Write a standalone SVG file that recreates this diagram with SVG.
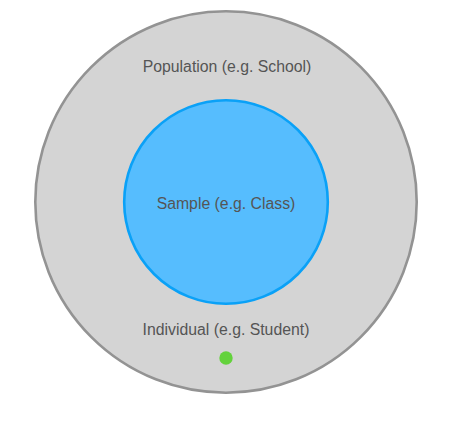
<svg xmlns="http://www.w3.org/2000/svg" width="464" height="421" viewBox="0 0 464 421">
<style>
text{font-family:"Liberation Sans",Arial,sans-serif;font-size:15.8px;fill:#555555;text-anchor:middle}
</style>
<rect width="464" height="421" fill="#ffffff"/>
<g id="population">
<circle cx="226" cy="202" r="190.7" fill="#d4d4d4" stroke="#939393" stroke-width="2.6"/>
<text x="227" y="71.5">Population (e.g. School)</text>
</g>
<g id="sample">
<circle cx="226" cy="202" r="101.8" fill="#56bdfe" stroke="#0aa1f7" stroke-width="2.6"/>
<text x="226" y="208.5">Sample (e.g. Class)</text>
</g>
<g id="individual">
<text x="226" y="334.5">Individual (e.g. Student)</text>
<circle cx="226" cy="358" r="6.7" fill="#63d23c"/>
</g>
<g id="connectors"/>
</svg>
